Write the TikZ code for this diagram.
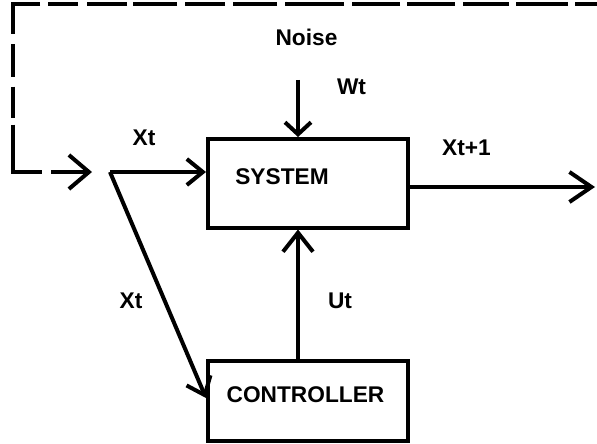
\documentclass[tikz,border=0pt]{standalone}
\usepackage{fontspec}
\setmainfont{Liberation Sans}
\usetikzlibrary{arrows.meta}
\begin{document}
\begin{tikzpicture}[x=1pt,y=-1pt,
  line width=4pt,
  box/.style={draw,line width=4pt,inner sep=0pt,fill=none},
  lbl/.style={anchor=base,inner sep=0pt,font=\fontsize{22.7}{27}\selectfont\bfseries},
]
\useasboundingbox (0,0) rectangle (597,444);

% boxes
\node[box,minimum width=199.5pt,minimum height=88.5pt] (system) at (307.75,183.25) {};
\node[box,minimum width=200pt,minimum height=80pt] (controller) at (308,400.5) {};

% texts
\node[lbl] (tsys) at (282,184) {SYSTEM};
\node[lbl] (tctl) at (305.5,402) {CONTROLLER};
\node[lbl] (tnoise) at (306.5,46) {Noise};
\node[lbl] (twt) at (351.5,94) {Wt};
\node[lbl] (txt1) at (144,145) {Xt};
\node[lbl] (txtp) at (466.5,155) {Xt+1};
\node[lbl] (tut) at (340,308) {Ut};
\node[lbl] (txt2) at (131,308) {Xt};

% coordinates
\coordinate (fbstart) at (597,4.5);
\coordinate (fbc1) at (12.5,4.5);
\coordinate (fbc2) at (12.5,172);
\coordinate (fbend) at (92,172);
\coordinate (br) at (110,172);
\coordinate (ns) at (298,80);
\coordinate (ux) at (298,0);
\coordinate (out) at (595,187);
\coordinate (ctlin) at (206,398);

% feedback dashed line
\draw[-{Straight Barb[length=20pt,width=34pt]},
  dash pattern=on 22pt off 7pt on 52pt off 7pt on 46pt off 8pt on 48pt off 7pt
  on 48pt off 8pt on 59pt off 8pt on 44pt off 8pt on 40pt off 8pt on 44pt off 6pt
  on 40pt off 9pt on 30pt off 8pt on 57.5pt off 10pt on 33pt off 9pt on 31pt off 7pt
  on 77pt off 9pt on 200pt off 10pt]
  (fbstart) -- (fbc1) -- (fbc2) -- (fbend);

% input to system
\draw[-{Straight Barb[length=16pt,width=26pt]}] (br) -- (br -| system.west);
% input to controller
\draw[-{Straight Barb[length=16pt,width=26pt]}] (br) -- (ctlin);
% noise
\draw[-{Straight Barb[length=12pt,width=26pt]}] (ns) -- (ns |- system.north);
% control
\draw[-{Straight Barb[length=19pt,width=30pt]}] (controller.north -| ux) -- (system.south -| ux);
% output
\draw[-{Straight Barb[length=22pt,width=30pt]}] (system.east |- out) -- (out);
\end{tikzpicture}
\end{document}
